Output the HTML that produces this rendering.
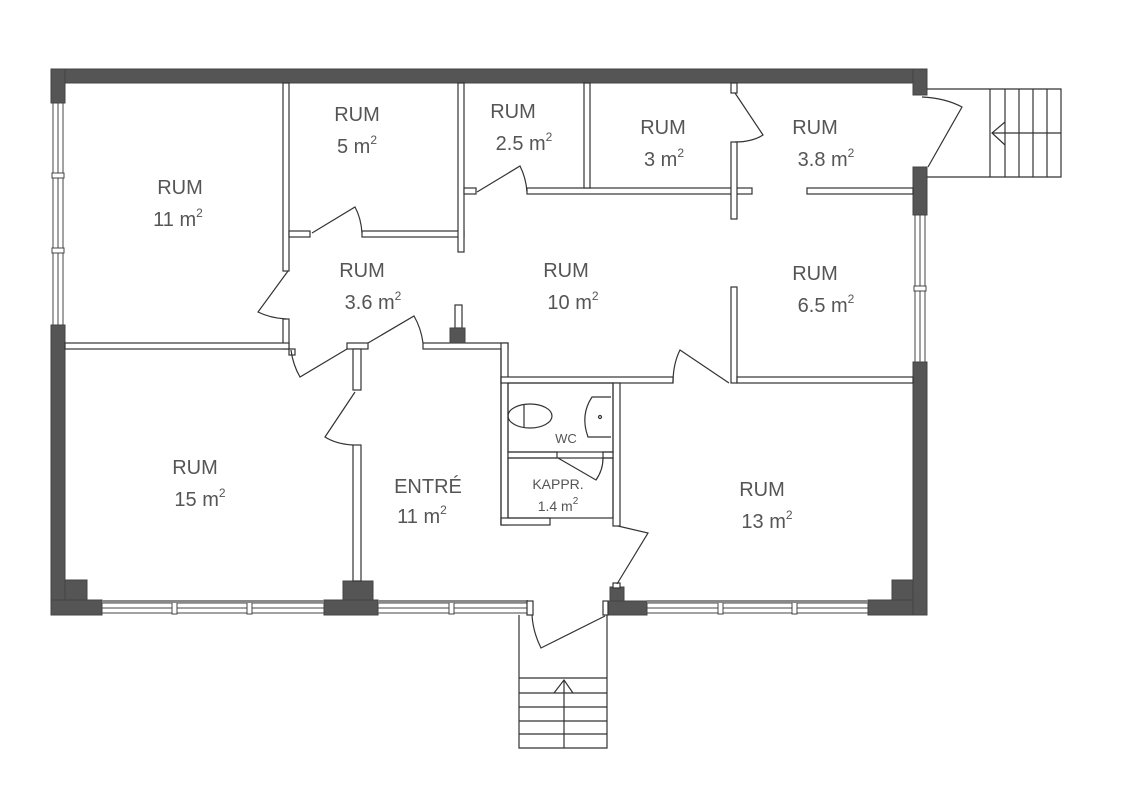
<!DOCTYPE html>
<html><head><meta charset="utf-8"><style>
html,body{margin:0;padding:0;background:#fff}
svg{display:block}
.w{fill:#fff;stroke:#333;stroke-width:1.2}
.d{fill:#555;stroke:#444;stroke-width:1}
.l{fill:none;stroke:#333;stroke-width:1.2}
.win{fill:#fff;stroke:#444;stroke-width:1}
text{font-family:"Liberation Sans",sans-serif;fill:#555;font-size:20px;text-anchor:middle}
.s{font-size:12px}
</style></head><body>
<svg width="1121" height="800" viewBox="0 0 1121 800" xmlns="http://www.w3.org/2000/svg">
<!-- outer dark walls -->
<rect class="d" x="51" y="69" width="876" height="14"/>
<rect class="d" x="51" y="69" width="14" height="34"/>
<rect class="d" x="51" y="325" width="14" height="290"/>
<rect class="d" x="51" y="600" width="51" height="15"/>
<rect class="d" x="65" y="580" width="22" height="20"/>
<rect class="d" x="324" y="600" width="54" height="15"/>
<rect class="d" x="343" y="581" width="30" height="19"/>
<rect class="d" x="603" y="601" width="44" height="14"/>
<rect class="d" x="610" y="587" width="14" height="14"/>
<rect class="d" x="868" y="600" width="59" height="15"/>
<rect class="d" x="892" y="580" width="21" height="20"/>
<rect class="d" x="913" y="69" width="14" height="26"/>
<rect class="d" x="913" y="167" width="14" height="48"/>
<rect class="d" x="913" y="362" width="14" height="253"/>
<!-- windows -->
<g class="win">
<rect x="53" y="103" width="10" height="222"/><line x1="58" y1="103" x2="58" y2="325"/>
<rect x="52" y="173" width="12" height="5"/><rect x="52" y="248" width="12" height="5"/>
<rect x="915" y="215" width="10" height="147"/><line x1="920" y1="215" x2="920" y2="362"/>
<rect x="914" y="286" width="12" height="5"/>
<rect x="102" y="603" width="222" height="10"/><line x1="102" y1="608" x2="324" y2="608"/>
<rect x="172" y="602" width="5" height="12"/><rect x="247" y="602" width="5" height="12"/>
<rect x="378" y="603" width="150" height="10"/><line x1="378" y1="608" x2="528" y2="608"/>
<rect x="449" y="602" width="5" height="12"/>
<rect x="647" y="603" width="221" height="10"/><line x1="647" y1="608" x2="868" y2="608"/>
<rect x="718" y="602" width="5" height="12"/><rect x="792" y="602" width="5" height="12"/>
</g>
<rect x="102" y="600" width="222" height="3" fill="#888"/>
<rect x="378" y="600" width="150" height="3" fill="#888"/>
<rect x="647" y="600" width="221" height="3" fill="#888"/>
<rect class="w" x="527" y="601" width="6" height="14"/>
<rect class="w" x="603" y="601" width="5" height="14"/>
<!-- interior walls -->
<g class="w">
<rect x="283" y="83" width="6" height="188"/>
<rect x="283" y="319" width="6" height="30"/>
<rect x="65" y="343" width="224" height="6"/>
<rect x="289" y="231" width="21" height="6"/>
<rect x="362" y="231" width="102" height="6"/>
<rect x="458" y="83" width="6" height="169"/>
<rect x="464" y="188" width="12" height="6"/>
<rect x="527" y="188" width="225" height="6"/>
<rect x="584" y="83" width="6" height="105"/>
<rect x="731" y="142" width="6" height="77"/>
<rect x="731" y="83" width="6" height="10"/>
<rect x="807" y="188" width="106" height="6"/>
<rect x="731" y="287" width="6" height="96"/>
<rect x="737" y="377" width="176" height="6"/>
<rect x="347" y="343" width="21" height="6"/>
<rect x="353" y="349" width="8" height="41"/>
<rect x="353" y="445" width="8" height="136"/>
<rect x="289" y="349" width="6" height="6"/>
<rect x="423" y="343" width="85" height="6"/>
<rect x="501" y="343" width="7" height="182"/>
<rect x="501" y="377" width="172" height="6"/>
<rect x="501" y="518" width="49" height="7"/>
<rect x="613" y="383" width="7" height="143"/>
<rect x="508" y="452" width="49" height="6"/>
<rect x="603" y="452" width="10" height="6"/>
<rect x="455" y="305" width="7" height="23"/>
<rect x="613" y="583" width="7" height="5"/>
</g>
<line class="l" x1="501" y1="349" x2="501" y2="525"/>
<rect class="d" x="450" y="328" width="15" height="15"/>
<rect class="l" x="508" y="383" width="105" height="69"/>
<rect class="l" x="508" y="458" width="105" height="60"/>
<!-- doors -->
<g class="l">
<path d="M288 271 L258 312 Q270 318 286 319"/>
<path d="M312 233 L355 207 Q361 218 362 233"/>
<path d="M477 192 L520 166 Q526 178 527 192"/>
<path d="M735 93 L763 135 Q752 142 735 142"/>
<path d="M922 97 Q945 98 962 107 L928 167"/>
<path d="M347 349 L300 377 Q293 365 291 350"/>
<path d="M368 343 L414 316 Q421 328 423 343"/>
<path d="M355 392 L325 437 Q336 444 353 445"/>
<path d="M729 383 L680 350 Q673 364 673 383"/>
<path d="M558 458 L596 480 Q603 470 603 458"/>
<path d="M618 526 L648 533 L617 584"/>
<path d="M605 616 L541 648 Q533 632 532 615"/>
</g>
<!-- WC fixtures -->
<g class="l">
<ellipse cx="530" cy="416" rx="22" ry="12"/>
<line x1="524" y1="405" x2="524" y2="427"/>
<path d="M611 397 L592 397 Q580 415 588 437 L611 437"/>
<circle cx="600" cy="417" r="1.5"/>
</g>
<!-- stairs right -->
<g class="l">
<path d="M927 89 L1061 89 L1061 177 L927 177"/>
<line x1="990" y1="89" x2="990" y2="177"/><line x1="1005" y1="89" x2="1005" y2="177"/>
<line x1="1019" y1="89" x2="1019" y2="177"/><line x1="1033" y1="89" x2="1033" y2="177"/>
<line x1="1047" y1="89" x2="1047" y2="177"/>
<line x1="992" y1="133" x2="1061" y2="133"/>
<path d="M1005 122 L992 133 L1005 145"/>
</g>
<!-- stairs bottom -->
<g class="l">
<path d="M519 615 L519 748 L607 748 L607 615"/>
<line x1="519" y1="678" x2="607" y2="678"/><line x1="519" y1="693" x2="607" y2="693"/>
<line x1="519" y1="707" x2="607" y2="707"/><line x1="519" y1="721" x2="607" y2="721"/>
<line x1="519" y1="734" x2="607" y2="734"/>
<line x1="564" y1="680" x2="564" y2="748"/>
<path d="M554 693 L564 680 L573 693"/>
</g>
<!-- labels -->
<text x="180" y="194">RUM</text><text x="178" y="226">11 m<tspan class="s" dy="-9">2</tspan></text>
<text x="357" y="121">RUM</text><text x="357" y="153">5 m<tspan class="s" dy="-9">2</tspan></text>
<text x="513" y="118">RUM</text><text x="524" y="150">2.5 m<tspan class="s" dy="-9">2</tspan></text>
<text x="663" y="134">RUM</text><text x="664" y="166">3 m<tspan class="s" dy="-9">2</tspan></text>
<text x="815" y="134">RUM</text><text x="826" y="166">3.8 m<tspan class="s" dy="-9">2</tspan></text>
<text x="362" y="277">RUM</text><text x="373" y="309">3.6 m<tspan class="s" dy="-9">2</tspan></text>
<text x="566" y="277">RUM</text><text x="573" y="309">10 m<tspan class="s" dy="-9">2</tspan></text>
<text x="815" y="280">RUM</text><text x="826" y="312">6.5 m<tspan class="s" dy="-9">2</tspan></text>
<text x="195" y="474">RUM</text><text x="200" y="506">15 m<tspan class="s" dy="-9">2</tspan></text>
<text x="428" y="493">ENTRÉ</text><text x="422" y="523">11 m<tspan class="s" dy="-9">2</tspan></text>
<text x="762" y="496">RUM</text><text x="767" y="528">13 m<tspan class="s" dy="-9">2</tspan></text>
<text x="566" y="443" style="font-size:13px">WC</text>
<text x="558" y="489" style="font-size:14px">KAPPR.</text>
<text x="558" y="511" style="font-size:14px">1.4 m<tspan class="s" style="font-size:10px" dy="-7">2</tspan></text>
</svg>
</body></html>
